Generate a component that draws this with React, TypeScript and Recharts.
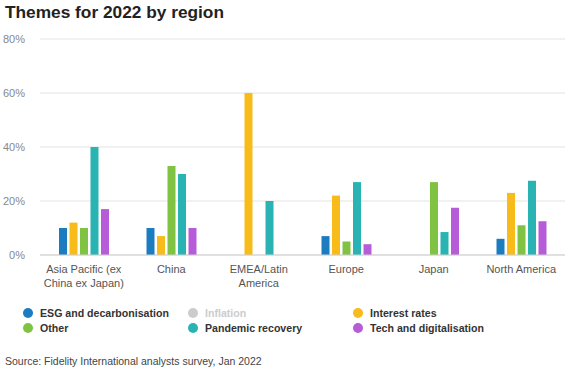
import React from 'react'
import { BarChart, Bar, XAxis, YAxis, CartesianGrid } from 'recharts'

const regions = ['Asia Pacific (ex|China ex Japan)', 'China', 'EMEA/Latin|America', 'Europe', 'Japan', 'North America']
const esg = [10, 10, 0, 7, 0, 6]
const interest = [12, 7, 60, 22, 0, 23]
const other = [10, 33, 0, 5, 27, 11]
const pandemic = [40, 30, 20, 27, 8.5, 27.5]
const tech = [17, 10, 0, 4, 17.5, 12.5]
const yTicks = [0, 20, 40, 60, 80]

const data = regions.map((region, i) => ({
  region,
  esg: esg[i],
  interest: interest[i],
  other: other[i],
  pandemic: pandemic[i],
  tech: tech[i]
}))

const series = [
  { key: 'esg', color: '#1b7dc0' },
  { key: 'interest', color: '#f7bb1a' },
  { key: 'other', color: '#80c242' },
  { key: 'pandemic', color: '#29b3b3' },
  { key: 'tech', color: '#b65cd8' }
]

const legendItems = [
  { name: 'ESG and decarbonisation', color: '#1b7dc0', x: 23, y: 307, hidden: false },
  { name: 'Inflation', color: '#cccccc', x: 188, y: 307, hidden: true },
  { name: 'Interest rates', color: '#f7bb1a', x: 353, y: 307, hidden: false },
  { name: 'Other', color: '#80c242', x: 23, y: 322, hidden: false },
  { name: 'Pandemic recovery', color: '#29b3b3', x: 188, y: 322, hidden: false },
  { name: 'Tech and digitalisation', color: '#b65cd8', x: 353, y: 322, hidden: false }
]

const RegionTick = ({ x, y, payload }: any) => {
  const lines = String(payload.value).split('|')
  return (
    <text x={x} y={y} textAnchor="middle" fill="#555" fontSize={11} fontFamily="Liberation Sans, Arial, sans-serif">
      {lines.map((l, i) => (
        <tspan key={i} x={x} dy={i === 0 ? 10 : 14}>{l}</tspan>
      ))}
    </text>
  )
}

export default function App() {
  const font = 'Liberation Sans, Arial, sans-serif'
  return (
    <div style={{ position: 'fixed', left: 0, top: 0, width: 573, height: 377, background: '#fff', fontFamily: font }}>
      <div style={{ position: 'absolute', left: 5, top: 2, fontSize: 17.3, fontWeight: 'bold', color: '#222' }}>
        Themes for 2022 by region
      </div>
      <div style={{ position: 'absolute', left: 0, top: 0 }}>
        <BarChart
          width={573}
          height={295}
          data={data}
          margin={{ top: 39, right: 8, left: 0, bottom: 0 }}
          barSize={8}
          barGap={2.5}
        >
          <CartesianGrid vertical={false} stroke="#e3e3e3" />
          <XAxis
            dataKey="region"
            tick={<RegionTick />}
            tickLine={false}
            axisLine={{ stroke: '#cfcfcf' }}
            interval={0}
            height={40}
          />
          <YAxis
            domain={[0, 80]}
            ticks={yTicks}
            tickFormatter={(v: number) => `${v}%`}
            tick={{ fill: '#888', fontSize: 11, fontFamily: font }}
            axisLine={false}
            tickLine={false}
            tickSize={0}
            tickMargin={15}
            width={40}
          />
          {series.map(s => (
            <Bar key={s.key} dataKey={s.key} fill={s.color} isAnimationActive={false} />
          ))}
        </BarChart>
      </div>
      {legendItems.map(item => (
        <div
          key={item.name}
          style={{
            position: 'absolute',
            left: item.x,
            top: item.y,
            display: 'flex',
            alignItems: 'center',
            fontSize: 10.6,
            fontWeight: 'bold',
            color: item.hidden ? '#cccccc' : '#333'
          }}
        >
          <span style={{ width: 10, height: 10, borderRadius: 5, background: item.color, display: 'inline-block', marginRight: 7 }} />
          {item.name}
        </div>
      ))}
      <div style={{ position: 'absolute', left: 5, top: 355, fontSize: 10.5, color: '#444' }}>
        Source: Fidelity International analysts survey, Jan 2022
      </div>
    </div>
  )
}
